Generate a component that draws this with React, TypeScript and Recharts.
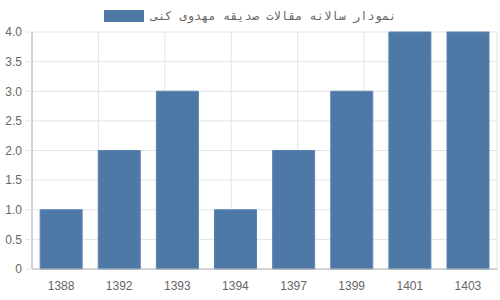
import { BarChart, Bar, XAxis, YAxis, CartesianGrid } from 'recharts';

const years = ['1388', '1392', '1393', '1394', '1397', '1399', '1401', '1403'];
const articleCounts = [1, 2, 3, 1, 2, 3, 4, 4];
const yTicks = [0, 0.5, 1, 1.5, 2, 2.5, 3, 3.5, 4];
const seriesLabel = 'نمودار سالانه مقالات صدیقه مهدوی کنی';

const boundaryTicks = years.map((_, i) => i).concat(years.length);

const BAR_COLOR = '#4e79a7';
const TEXT_COLOR = '#666';
const GRID_COLOR = '#e4e4e4';
const AXIS_COLOR = '#b5b5b5';

export default function App() {
    const chartData = years.map((year, i) => ({ year, count: articleCounts[i] }));

    return (
        <div style={{ position: 'absolute', left: 0, top: 0, width: 500, height: 300, fontFamily: 'Arial, "Liberation Sans", sans-serif' }}>
            <div
                style={{
                    position: 'absolute',
                    top: 9,
                    left: 0,
                    width: 500,
                    display: 'flex',
                    justifyContent: 'center',
                    alignItems: 'center',
                    gap: 7,
                    fontSize: 12,
                    color: TEXT_COLOR,
                }}
            >
                <span style={{ width: 40, height: 12, background: BAR_COLOR, display: 'inline-block' }} />
                <span dir="rtl" style={{ fontFamily: '"DejaVu Sans Mono", monospace', lineHeight: '14px', letterSpacing: 0.75 }}>
                    {seriesLabel}
                </span>
            </div>
            <BarChart
                width={500}
                height={300}
                data={chartData}
                margin={{ top: 32, right: 3, left: 0, bottom: 0 }}
                barCategoryGap="14%"
            >
                <CartesianGrid stroke={GRID_COLOR} xAxisId="grid" />
                <XAxis
                    xAxisId="grid"
                    type="number"
                    domain={[0, years.length]}
                    ticks={boundaryTicks}
                    height={0}
                    axisLine={false}
                    tickSize={9}
                    tickLine={{ stroke: GRID_COLOR }}
                    tick={() => <g />}
                />
                <XAxis
                    xAxisId="cat"
                    dataKey="year"
                    height={31}
                    tickLine={false}
                    tickSize={8}
                    tickMargin={4}
                    axisLine={{ stroke: AXIS_COLOR }}
                    tick={{ fill: TEXT_COLOR, fontSize: 12 }}
                    interval={0}
                />
                <YAxis
                    width={32}
                    domain={[0, 4]}
                    ticks={yTicks}
                    tickFormatter={(v: number) => (v === 0 ? '0' : v.toFixed(1))}
                    tickSize={6}
                    tickMargin={4}
                    tickLine={{ stroke: GRID_COLOR }}
                    axisLine={{ stroke: AXIS_COLOR }}
                    tick={{ fill: TEXT_COLOR, fontSize: 12 }}
                    interval={0}
                />
                <Bar
                    xAxisId="cat"
                    dataKey="count"
                    fill={BAR_COLOR}
                    stroke="#5a84b0"
                    strokeWidth={1}
                    isAnimationActive={false}
                />
            </BarChart>
        </div>
    );
}
